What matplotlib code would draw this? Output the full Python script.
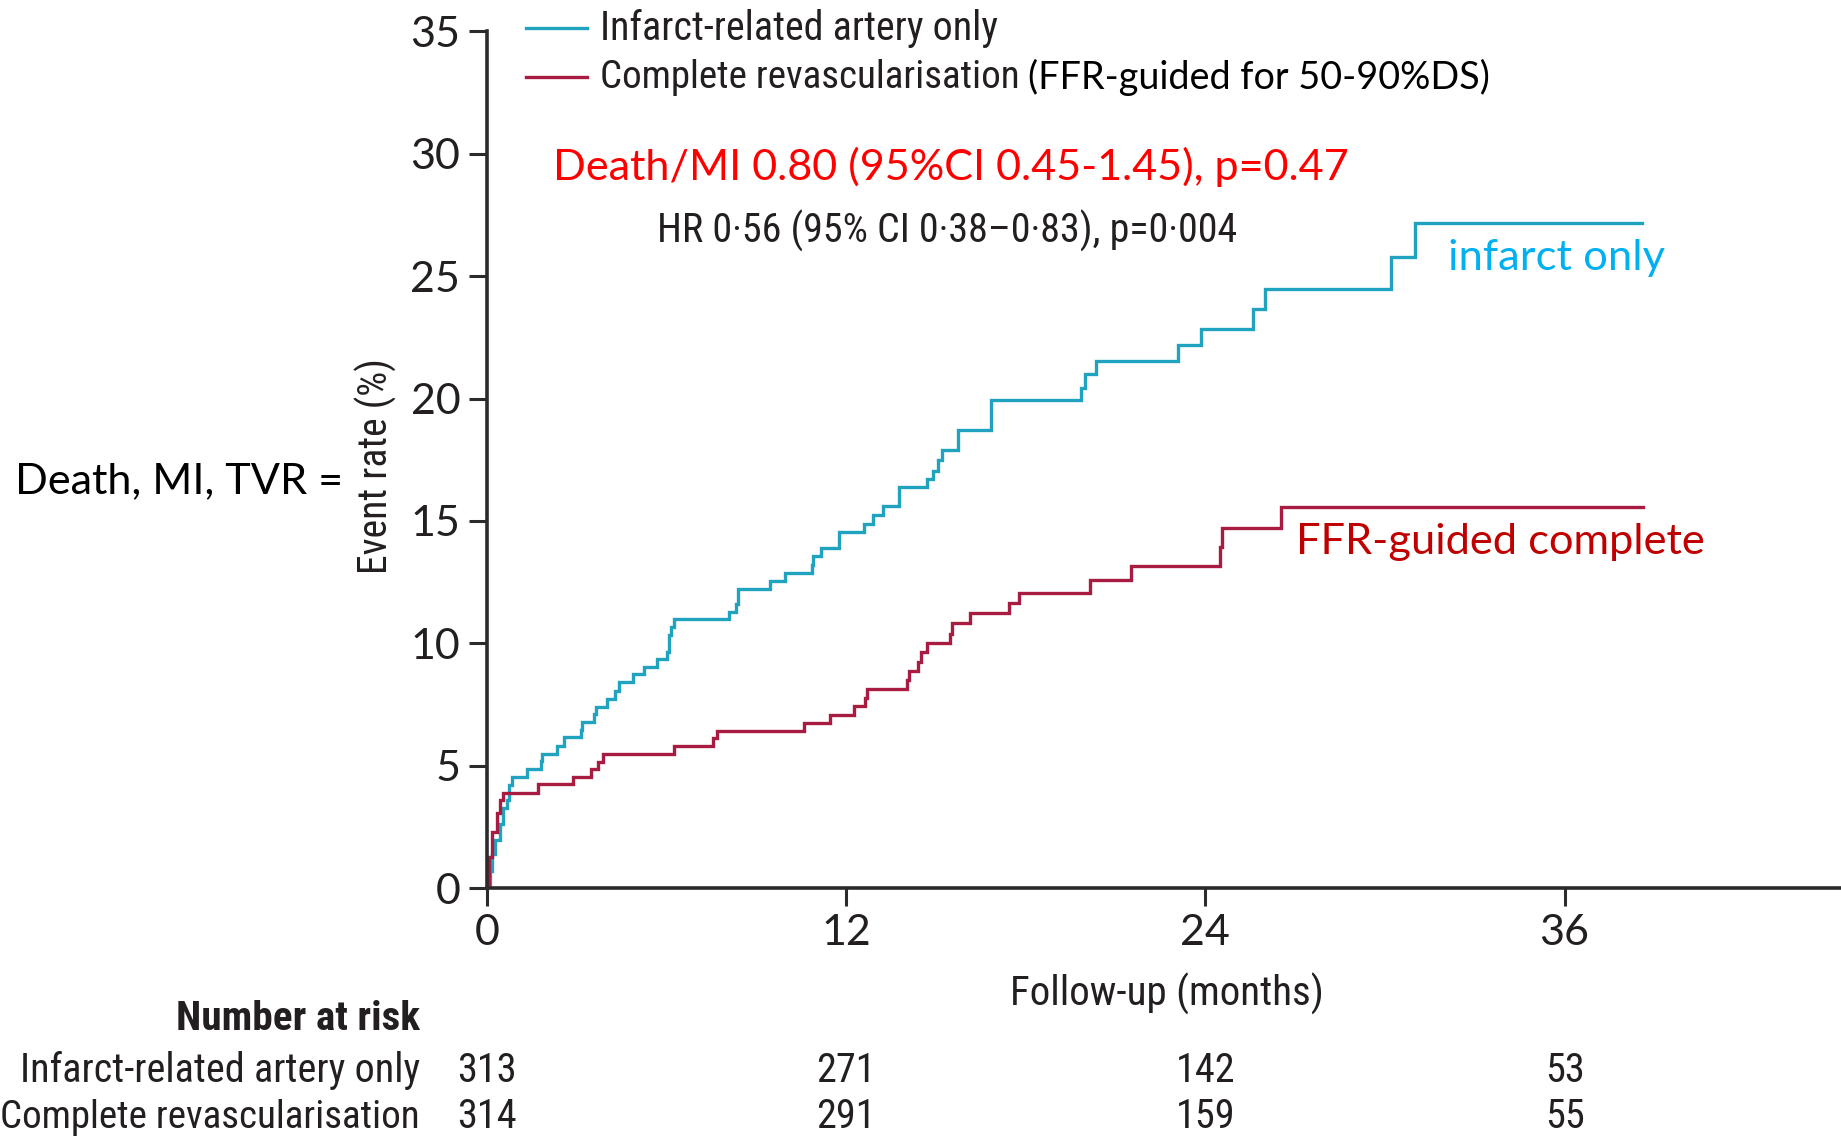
import matplotlib
matplotlib.use('Agg')
import matplotlib.pyplot as plt
from matplotlib import font_manager as fm
from matplotlib.transforms import blended_transform_factory

# ---------------- data ----------------
months_ira = [0.00, 0.10, 0.17, 0.28, 0.44, 0.56, 0.69, 0.76, 0.83, 1.36, 1.80, 1.85,
              2.36, 2.58, 3.14, 3.17, 3.58, 3.65, 4.01, 4.29, 4.43, 4.90, 5.25, 5.70,
              6.01, 6.10, 6.15, 6.24, 8.10, 8.33, 8.41, 9.46, 9.96, 10.87, 10.91, 11.15,
              11.77, 12.60, 12.91, 13.22, 13.78, 14.72, 14.90, 15.08, 15.21, 15.75, 16.84,
              19.84, 19.97, 20.35, 23.08, 23.86, 25.60, 25.98, 30.20, 31.01, 38.60]
rate_ira = [0.00, 0.70, 1.40, 1.96, 2.62, 3.26, 3.60, 4.21, 4.55, 4.85, 5.18, 5.48,
            5.82, 6.19, 6.47, 6.77, 7.11, 7.41, 7.71, 8.06, 8.43, 8.74, 9.05, 9.36,
            9.66, 10.34, 10.65, 10.98, 11.29, 11.60, 12.20, 12.55, 12.88, 13.20, 13.57, 13.88,
            14.53, 14.87, 15.24, 15.61, 16.37, 16.70, 17.05, 17.49, 17.90, 18.71, 19.94,
            20.42, 21.00, 21.53, 22.19, 22.84, 23.66, 24.46, 25.77, 27.18, 27.18]

months_cr = [0.00, 0.08, 0.17, 0.33, 0.44, 0.56, 1.72, 2.87, 3.47, 3.73, 3.90, 6.26,
             7.55, 7.68, 10.61, 11.47, 12.28, 12.64, 12.70, 14.05, 14.11, 14.42, 14.50,
             14.72, 15.47, 15.55, 16.14, 17.46, 17.78, 20.15, 21.51, 24.49, 24.55, 26.54, 38.62]
rate_cr = [0.00, 1.28, 2.30, 3.05, 3.60, 3.90, 4.24, 4.55, 4.85, 5.16, 5.48, 5.80,
           6.12, 6.43, 6.76, 7.07, 7.44, 7.75, 8.12, 8.50, 8.87, 9.25, 9.63,
           10.03, 10.38, 10.82, 11.22, 11.66, 12.04, 12.59, 13.17, 13.95, 14.70, 15.58, 15.58]

x_ticks = [0, 12, 24, 36]
y_ticks = [0, 5, 10, 15, 20, 25, 30, 35]
risk_times = [0, 12, 24, 36]
risk_ira = [313, 271, 142, 53]
risk_cr = [314, 291, 159, 55]

series_names = ["Infarct-related artery only", "Complete revascularisation"]
legend_suffix = "(FFR-guided for 50-90%DS)"
red_note = "Death/MI 0.80 (95%CI 0.45-1.45), p=0.47"
hr_note = "HR 0\u00b756 (95% CI 0\u00b738\u20130\u00b783), p=0\u00b7004"
label_ira = "infarct only"
label_cr = "FFR-guided complete"
left_note = "Death, MI, TVR ="
x_label = "Follow-up (months)"
y_label = "Event rate (%)"
risk_title = "Number at risk"

# ---------------- fonts ----------------
W, H, DPI = 1841, 1136, 100
entries = fm.fontManager.ttflist
names = {f.name for f in entries}

NARROW = dict(family='Liberation Sans')
for cand in ['Roboto Condensed', 'Liberation Sans Narrow', 'Open Sans Condensed']:
    if cand in names:
        NARROW = dict(family=cand)
        break

CAL = 'Lato' if 'Lato' in names else 'DejaVu Sans'
C_IRA = '#1FA3BE'
C_CR = '#A81C42'
INK = '#231F20'

fig = plt.figure(figsize=(W / DPI, H / DPI), dpi=DPI)
renderer = fig.canvas.get_renderer()

x0px, x_per_month = 486.7, 29.94
y0px, y_per_unit = 888.1, 24.48
xmax = (W - x0px) / x_per_month
ax = fig.add_axes([x0px / W, (H - y0px) / H, (W - x0px) / W, 35 * y_per_unit / H])
ax.set_xlim(0, xmax)
ax.set_ylim(0, 35)

ax.step(months_ira, rate_ira, where='post', color=C_IRA, lw=2.4, solid_joinstyle='miter')
ax.step(months_cr, rate_cr, where='post', color=C_CR, lw=2.4, solid_joinstyle='miter')

for s in ['top', 'right']:
    ax.spines[s].set_visible(False)
for s in ['left', 'bottom']:
    ax.spines[s].set_linewidth(2.6)
    ax.spines[s].set_color('#2b2b2b')
ax.set_xticks(x_ticks)
ax.set_yticks(y_ticks)
ax.tick_params(axis='both', direction='out', length=13, width=2.2, color='#2b2b2b',
               labelsize=31, labelcolor=INK, pad=6)
for lab in ax.get_xticklabels() + ax.get_yticklabels():
    lab.set_fontfamily(CAL)


def fit_text(xl, xr, yc, s, font, color, weight='normal', ha='left'):
    t = fig.text(xl / W, 1 - yc / H, s, fontsize=20, color=color,
                 va='center', ha=ha, weight=weight, **font)
    bb = t.get_window_extent(renderer)
    t.set_fontsize(20 * (xr - xl) / bb.width)
    if ha == 'right':
        t.set_x(xr / W)
    return t


CALF = dict(family=CAL)

# legend
fig.add_artist(plt.Line2D([526 / W, 587 / W], [1 - 28 / H, 1 - 28 / H], color=C_IRA, lw=2.4))
fig.add_artist(plt.Line2D([526 / W, 587 / W], [1 - 77 / H, 1 - 77 / H], color=C_CR, lw=2.4))
fit_text(600, 996, 28, series_names[0], NARROW, INK)
fit_text(600, 1019, 77, series_names[1], NARROW, INK)
fit_text(1028, 1489, 77, legend_suffix, CALF, 'black')

# annotations
fit_text(553, 1350, 167, red_note, CALF, '#FF0000')
fit_text(657, 1236, 231, hr_note, NARROW, INK)
fit_text(1448, 1665, 258, label_ira, CALF, '#00B0F0')
fit_text(1296, 1706, 542, label_cr, CALF, '#C00000')
fit_text(15, 343, 481, left_note, CALF, 'black')

# axis labels
fit_text(1010, 1323, 994, x_label, NARROW, INK)
yl = fig.text(376 / W, 1 - 466 / H, y_label, rotation=90, fontsize=20,
              color=INK, ha='center', va='center', **NARROW)
bb = yl.get_window_extent(renderer)
yl.set_fontsize(20 * 215 / bb.height)

# number at risk
fit_text(177, 420, 1019, risk_title, NARROW, INK, weight='bold', ha='right')
fit_text(23, 420, 1070, series_names[0], NARROW, INK, ha='right')
fit_text(1, 420, 1117, series_names[1], NARROW, INK, ha='right')
tr = blended_transform_factory(ax.transData, fig.transFigure)
for tt, a, b in zip(risk_times, risk_ira, risk_cr):
    ax.text(tt, 1 - 1070 / H, str(a), transform=tr, ha='center', va='center',
            fontsize=29, color=INK, clip_on=False, **NARROW)
    ax.text(tt, 1 - 1117 / H, str(b), transform=tr, ha='center', va='center',
            fontsize=29, color=INK, clip_on=False, **NARROW)

fig.savefig('out.png', dpi=DPI)
